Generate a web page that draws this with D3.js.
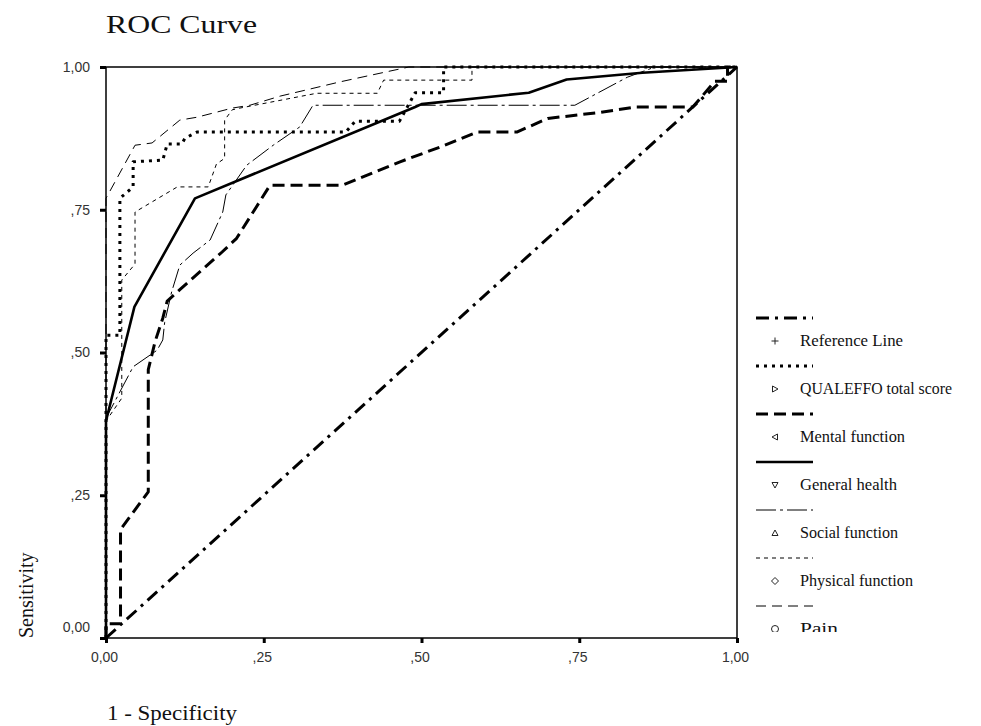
<!DOCTYPE html>
<html>
<head>
<meta charset="utf-8">
<script src="https://cdn.jsdelivr.net/npm/d3@7"></script>
<style>
  html, body { margin: 0; padding: 0; background: #fff; }
  svg { display: block; }
</style>
</head>
<body>
<svg id="chart" width="981" height="726"></svg>
<script>
// ---- data (x = 1 - Specificity, y = Sensitivity) ----
const referenceLine = [[0,0],[1,1]];
const qualeffoTotal = [[0,0],[0,0.53],[0.022,0.53],[0.022,0.77],[0.043,0.79],[0.043,0.834],[0.09,0.837],[0.097,0.865],[0.12,0.865],[0.125,0.875],[0.144,0.886],[0.38,0.886],[0.395,0.905],[0.465,0.905],[0.49,0.955],[0.535,0.955],[0.535,1],[1,1]];
const mentalFunction = [[0,0],[0,0.025],[0.023,0.025],[0.023,0.19],[0.067,0.256],[0.067,0.47],[0.078,0.52],[0.09,0.56],[0.097,0.59],[0.117,0.61],[0.184,0.676],[0.207,0.70],[0.26,0.793],[0.375,0.793],[0.466,0.834],[0.53,0.86],[0.588,0.886],[0.651,0.886],[0.70,0.91],[0.78,0.92],[0.84,0.93],[0.93,0.93],[0.965,0.975],[0.985,0.975],[0.985,1],[1,1]];
const generalHealth = [[0,0],[0,0.38],[0.045,0.58],[0.141,0.77],[0.49,0.93],[0.5,0.935],[0.67,0.955],[0.73,0.978],[0.85,0.99],[1,1]];
const socialFunction = [[0,0],[0,0.385],[0.043,0.475],[0.081,0.504],[0.09,0.522],[0.093,0.553],[0.104,0.606],[0.117,0.653],[0.138,0.674],[0.165,0.697],[0.185,0.746],[0.19,0.776],[0.223,0.828],[0.265,0.863],[0.307,0.895],[0.328,0.933],[0.743,0.933],[0.826,0.982],[0.87,1],[1,1]];
const physicalFunction = [[0,0],[0,0.38],[0.025,0.42],[0.025,0.627],[0.046,0.655],[0.046,0.746],[0.113,0.79],[0.162,0.79],[0.175,0.83],[0.188,0.84],[0.188,0.907],[0.2,0.925],[0.212,0.928],[0.334,0.954],[0.43,0.954],[0.44,0.977],[0.58,0.977],[0.58,1],[1,1]];
const pain = [[0,0],[0,0.77],[0.046,0.863],[0.073,0.867],[0.117,0.907],[0.144,0.912],[0.2,0.928],[0.228,0.933],[0.276,0.949],[0.318,0.96],[0.371,0.974],[0.48,1],[1,1]];

const seriesNames = ["Reference Line","QUALEFFO total score","Mental function","General health","Social function","Physical function","Pain"];
const seriesData = [referenceLine, qualeffoTotal, mentalFunction, generalHealth, socialFunction, physicalFunction, pain];
const tickValues = [0, 0.25, 0.5, 0.75, 1];
const tickLabels = ["0,00", ",25", ",50", ",75", "1,00"];

// ---- styles ----
const styles = [
  {w: 3,   dash: "13,6,3,6", sym: "plus"},
  {w: 3,   dash: "3,5",      sym: "triR"},
  {w: 3,   dash: "12,6",     sym: "triL"},
  {w: 2.6, dash: null,       sym: "triD"},
  {w: 1,   dash: "20,4,3,4", sym: "triU"},
  {w: 1,   dash: "4,4",      sym: "diamond"},
  {w: 1,   dash: "10,6",     sym: "circle"}
];

const svg = d3.select("#chart");
const x = d3.scaleLinear().domain([0,1]).range([106,737]);
const y = d3.scaleLinear().domain([0,1]).range([638,67]);

// Title
svg.append("text").attr("x",106).attr("y",33)
  .attr("font-family","'Liberation Serif','Times New Roman',serif")
  .attr("font-size",26).attr("textLength",151).attr("lengthAdjust","spacingAndGlyphs")
  .attr("fill","#111").text("ROC Curve");

// Frame
svg.append("rect").attr("x",x(0)).attr("y",y(1)).attr("width",x(1)-x(0)).attr("height",y(0)-y(1))
  .attr("fill","none").attr("stroke","#000").attr("stroke-width",1.5);

// Axes
const fmt = v => tickLabels[tickValues.indexOf(v)];
const xAxis = svg.append("g").attr("transform",`translate(0,${y(0)})`)
  .call(d3.axisBottom(x).tickValues(tickValues).tickFormat(fmt).tickSize(5).tickPadding(9));
const yAxis = svg.append("g").attr("transform",`translate(${x(0)},0)`)
  .call(d3.axisLeft(y).tickValues(tickValues).tickFormat(fmt).tickSize(6).tickPadding(10));
[xAxis, yAxis].forEach(g => {
  g.select(".domain").remove();
  g.selectAll(".tick line").attr("stroke","#000").attr("stroke-width",3);
  g.selectAll(".tick text").attr("font-family","'Liberation Sans',Arial,sans-serif")
    .attr("font-size",14).attr("fill","#333");
});
xAxis.selectAll(".tick text").attr("dx","-2px");
yAxis.selectAll(".tick text").filter(d => d === 0).attr("dy","-0.45em");

// Lines
const line = d3.line().x(d => x(d[0])).y(d => y(d[1]));
const order = [0,6,5,4,3,2,1];
svg.append("g").selectAll("path").data(order).join("path")
  .attr("d", i => line(seriesData[i]))
  .attr("fill","none").attr("stroke","#000")
  .attr("stroke-width", i => styles[i].w)
  .attr("stroke-dasharray", i => styles[i].dash)
  .attr("stroke-linejoin","round");

// Axis titles
svg.append("text").attr("transform","translate(33,638) rotate(-90)")
  .attr("font-family","'Liberation Serif','Times New Roman',serif")
  .attr("font-size",20)
  .attr("fill","#111").text("Sensitivity");
svg.append("text").attr("x",107).attr("y",720)
  .attr("font-family","'Liberation Serif','Times New Roman',serif")
  .attr("font-size",20).attr("textLength",130).attr("lengthAdjust","spacingAndGlyphs")
  .attr("fill","#111").text("1 - Specificity");

// Legend
const defs = svg.append("defs");
defs.append("clipPath").attr("id","legclip").append("rect")
  .attr("x",740).attr("y",290).attr("width",240).attr("height",342);
const leg = svg.append("g").attr("clip-path","url(#legclip)");
const textW = [103,152,105,97,98,113,38];
const symPath = {
  plus:    "M-3.5,0H3.5M0,-3.5V3.5",
  triR:    "M-2.5,-3L3,0L-2.5,3Z",
  triL:    "M2.5,-3L-3,0L2.5,3Z",
  triD:    "M-3,-2.5L3,-2.5L0,3Z",
  triU:    "M-3,2.5L3,2.5L0,-3Z",
  diamond: "M0,-3.5L3.5,0L0,3.5L-3.5,0Z",
  circle:  "M3.5,0A3.5,3.5 0 1,1 -3.5,0A3.5,3.5 0 1,1 3.5,0Z"
};
seriesNames.forEach((name, i) => {
  const base = 346 + 48 * i;
  const sy = base - 28;
  leg.append("line").attr("x1",756).attr("x2",813).attr("y1",sy).attr("y2",sy)
    .attr("stroke","#000").attr("stroke-width",styles[i].w)
    .attr("stroke-dasharray",styles[i].dash);
  leg.append("path").attr("transform",`translate(775,${base-5})`)
    .attr("d",symPath[styles[i].sym]).attr("fill","none").attr("stroke","#222").attr("stroke-width",1);
  leg.append("text").attr("x",800).attr("y",base)
    .attr("font-family","'Liberation Serif','Times New Roman',serif")
    .attr("font-size",16).attr("textLength",textW[i]).attr("lengthAdjust","spacingAndGlyphs")
    .attr("fill","#111").text(name);
});
</script>
</body>
</html>
